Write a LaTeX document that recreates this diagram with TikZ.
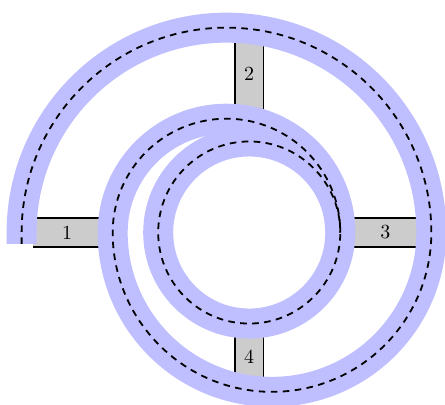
\documentclass[tikz,border=0pt]{standalone}
\begin{document}
\begin{tikzpicture}[
  roadbody/.style={fill=black!20},
  roadedge/.style={draw=black, thick},
  band/.style={draw=blue!25, line width=15pt},
  centerline/.style={draw=black, line width=0.9pt, dash pattern=on 3.3pt off 2.7pt},
  roadlabel/.style={inner sep=1pt, font=\normalsize}
]
\useasboundingbox (-4.380,-3.031) rectangle (3.440,4.086);
% road 1 (left)
\fill[roadbody] (-3.8,-0.25) rectangle (-2.4,0.25);
\draw[roadedge] (-3.8,0.25) -- (-2.4,0.25) (-3.8,-0.25) -- (-2.4,-0.25);
% road 3 (right)
\fill[roadbody] (1.6,-0.25) rectangle (3.0,0.25);
\draw[roadedge] (1.6,0.25) -- (3.0,0.25) (1.6,-0.25) -- (3.0,-0.25);
% road 2 (top)
\fill[roadbody] (-0.25,2.0) rectangle (0.25,3.4);
\draw[roadedge] (-0.25,2.0) -- (-0.25,3.4) (0.25,2.0) -- (0.25,3.4);
% road 4 (bottom)
\fill[roadbody] (-0.25,-1.7) rectangle (0.25,-2.65);
\draw[roadedge] (-0.25,-1.7) -- (-0.25,-2.65) (0.25,-1.7) -- (0.25,-2.65);
% spiral band
\path[band] (-4,-0.2) -- (-4,0)
  arc[start angle=180,end angle=0,radius=3.6]
  arc[start angle=0,end angle=-180,radius=2.8]
  arc[start angle=180,end angle=0,radius=2];
\path[band] (0,0) circle[radius=1.6];
% dashed centre line
\path[centerline] (-4,-0.2) -- (-4,0)
  arc[start angle=180,end angle=0,radius=3.6]
  arc[start angle=0,end angle=-180,radius=2.8]
  arc[start angle=180,end angle=0,radius=2];
\path[centerline] (0,0) circle[radius=1.6];
% labels
\node[roadlabel] (l1) at (-3.2,0) {1};
\node[roadlabel] (l2) at (0,2.78) {2};
\node[roadlabel] (l3) at (2.39,0) {3};
\node[roadlabel] (l4) at (0,-2.19) {4};
\end{tikzpicture}
\end{document}
